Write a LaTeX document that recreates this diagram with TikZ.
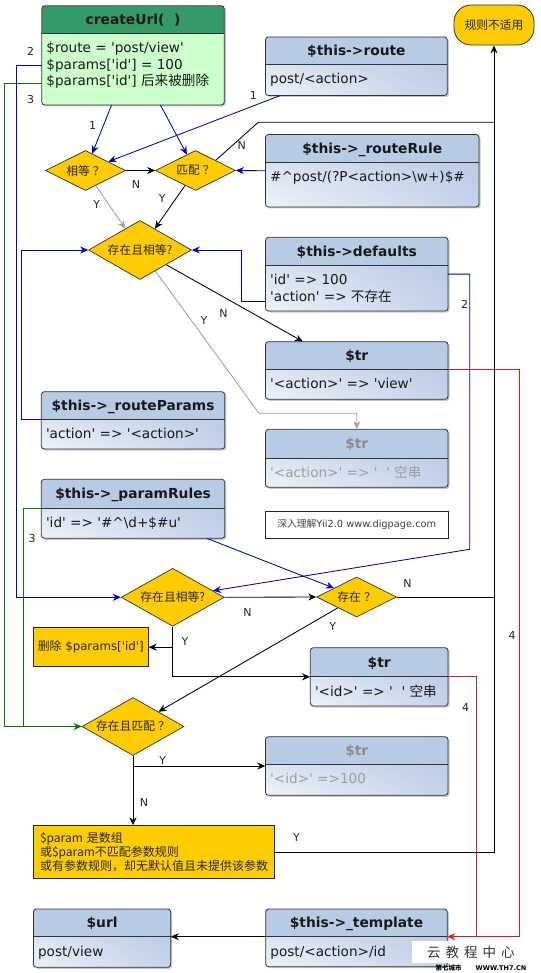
\documentclass[tikz,border=0pt]{standalone}
\usepackage{fontspec}
\setmainfont{DejaVu Sans}[Ligatures=TeXOff]
\newfontfamily\cjk{Noto Sans CJK SC}[Ligatures=TeXOff]
\usetikzlibrary{arrows.meta,shapes.geometric,calc,fit,shadings}
\definecolor{hdrb}{HTML}{B8CBE5}
\definecolor{bul}{HTML}{CBD8ED}
\definecolor{bur}{HTML}{B3C6E2}
\definecolor{bll}{HTML}{EEF2F9}
\definecolor{blr}{HTML}{C4D3EA}
\definecolor{hdrg}{HTML}{349A67}
\definecolor{bdyg}{HTML}{CCFFCC}
\definecolor{yel}{HTML}{FFCC00}
\definecolor{lblue}{HTML}{0000CC}
\definecolor{lgreen}{HTML}{007A00}
\definecolor{lred}{HTML}{E01B1B}
\definecolor{lgray}{HTML}{A0A0A0}
\definecolor{txg}{HTML}{8C8C8C}
\tikzset{
  boxline/.style={draw=black!80,line width=0.8pt},
  hdr-blue/.style={fill=hdrb}, hdr-gray/.style={fill=hdrb}, hdr-green/.style={fill=hdrg},
  bdy-blue/.style={shade,upper left=bul,upper right=bur,lower left=bll,lower right=blr},
  bdy-gray/.style={shade,upper left=bul,upper right=bur,lower left=bll,lower right=blr},
  bdy-green/.style={fill=bdyg},
  tt-blue/.style={text=black!90}, tt-green/.style={text=black!90}, tt-gray/.style={text=txg},
  bt-blue/.style={text=black!90}, bt-green/.style={text=black!90}, bt-gray/.style={text=txg!85},
  titlef/.style={font=\bfseries\fontsize{13.8}{16}\selectfont},
  bodyf/.style={font=\fontsize{13.6}{16.5}\selectfont},
  dia/.style={shape=diamond,draw=black!80,line width=0.7pt,fill=yel,inner sep=0pt,shape aspect=2,
    font=\cjk\fontsize{11.8}{13}\selectfont,text=black!85},
  ybox/.style={draw=black!85,line width=0.8pt,fill=yel,text=black!85},
  lbl/.style={font=\fontsize{11}{12}\selectfont,text=black!85,inner sep=0pt},
  conn/.style={line width=0.85pt},
  bk/.style={conn,draw=black},
  bl/.style={conn,draw=lblue},
  gn/.style={conn,draw=lgreen},
  rd/.style={conn,draw=lred},
  gy/.style={conn,draw=lgray},
  arr/.style={-{Stealth[length=8pt,width=7pt]}},
}
\newcommand{\ubox}[9]{%
  \fill[black,opacity=0.22,rounded corners=3pt] ($(#2,#3)+(1.5,1.5)$) rectangle ($(#4,#5)+(1.5,1.5)$);
  \begin{scope}
    \clip[rounded corners=3pt] (#2,#3) rectangle (#4,#5);
    \path[bdy-#9] (#2,#3) rectangle (#4,#5);
    \fill[hdr-#9] (#2,#3) rectangle (#4,#6);
  \end{scope}
  \draw[boxline,rounded corners=3pt] (#2,#3) rectangle (#4,#5);
  \draw[boxline] (#2,#6) -- (#4,#6);
  \node[inner sep=0pt,fit={(#2,#3) (#4,#5)}] (#1) {};
  \coordinate (#1-hr) at (#4,#6);
  \coordinate (#1-hl) at (#2,#6);
  \node[titlef,tt-#9,anchor=base,inner sep=0pt] at ({(#2+#4)/2},{(#3+#6)/2+5}) {#7};
  \node[bodyf,bt-#9,anchor=north west,inner sep=0pt,align=left] at ({#2+4.5},{#6+7.6}) {\strut #8};
}
\begin{document}
\begin{tikzpicture}[x=1pt,y=-1pt]
\useasboundingbox (0,0) rectangle (540,973);
\fill[white] (0,0) rectangle (540,973);

% ---------- boxes ----------
\ubox{cu}{41.7}{5.7}{224.3}{105}{33.3}{createUrl(\hspace{0.7em})}{\$route = 'post/view'\\\$params['id'] = 100\\\$params['id'] {\cjk 后来被删除}}{green}
\ubox{route}{265.5}{37}{447.3}{95.5}{64}{\$this->route}{post/<action>}{blue}
\ubox{rr}{265.5}{134.5}{479}{207}{162}{\$this->\_routeRule}{\#\textasciicircum post/(?P<action>\textbackslash w+)\$\#}{blue}
\ubox{def}{265.5}{237.3}{448}{311}{265.3}{\$this->defaults}{'id' => 100\\'action' => {\cjk 不存在}}{blue}
\ubox{tra}{265.5}{341.7}{448}{399.3}{369.3}{\$tr}{'<action>' => 'view'}{blue}
\ubox{rp}{41.3}{391.7}{224.8}{449}{419.3}{\$this->\_routeParams}{'action' => '<action>'}{blue}
\ubox{trg}{265.5}{429.3}{448}{487.3}{458.3}{\$tr}{'<action>' => '\ \ ' {\cjk 空串}}{gray}
\ubox{pr}{41.3}{479.3}{224.8}{538.3}{508.3}{\$this->\_paramRules}{'id' => '\#\textasciicircum\textbackslash d+\$\#u'}{blue}
\ubox{trb}{310.3}{647.7}{448}{706}{676.7}{\$tr}{'<id>' => '\ \ ' {\cjk 空串}}{blue}
\ubox{trc}{265.5}{736.7}{448}{795.3}{764.3}{\$tr}{'<id>' =>100}{gray}
\ubox{url}{33.4}{909}{170.7}{967.3}{936.7}{\$url}{post/view}{blue}
\ubox{tpl}{265.7}{909}{447.3}{966.7}{936.7}{\$this->\_template}{post/<action>/id}{blue}

\node[draw=black!85,line width=0.6pt,fill=white,inner sep=0pt,minimum width=182.5pt,minimum height=27.3pt,
  font=\fontsize{9.8}{11}\selectfont,text=black!75] (dp) at (356.75,524.6) {{\cjk 深入理解}Yii2.0 www.digpage.com};

\node[draw=black!80,line width=0.8pt,fill=yel,rounded corners=17pt,minimum width=80pt,minimum height=40pt,
  inner sep=0pt,font=\cjk\fontsize{11.8}{13}\selectfont,text=black!85] (na) at (494,25) {规则不适用};

% ---------- diamonds ----------
\node[dia,minimum width=80pt,minimum height=40pt] (eq) at (85.5,170.5) {相等\hspace{3pt}？};
\node[dia,minimum width=80pt,minimum height=40pt] (m) at (195.5,170.5) {匹配\hspace{3pt}？};
\node[dia,minimum width=103pt,minimum height=59pt] (d1) at (140,250) {存在且相等?};
\node[dia,minimum width=103pt,minimum height=58pt] (d2) at (172.7,597.3) {存在且相等?};
\node[dia,minimum width=80pt,minimum height=40pt] (ex) at (356.6,597) {存在\hspace{3pt}？};
\node[dia,minimum width=102pt,minimum height=58pt] (d3) at (133,726.5) {存在且匹配\hspace{3pt}？};

% ---------- yellow boxes ----------
\node[ybox,inner sep=0pt,minimum width=115pt,minimum height=39pt,font=\fontsize{11.8}{13}\selectfont] (del) at (90.8,647.2) {{\cjk 删除} \$params['id']};
\node[ybox,inner xsep=6.5pt,inner ysep=0pt,text width=228pt,minimum height=52.6pt,align=left,
  font=\cjk\fontsize{12}{13.8}\selectfont] (yb) at (154,852) {\$param 是数组\\或\$param不匹配参数规则\\或有参数规则，却无默认值且未提供该参数};

% ---------- connectors ----------
\draw[bl,arr] ([xshift=70pt]cu.south west) -- (eq);
\draw[bl,arr] ([xshift=119pt]cu.south west) -- (m);
\draw[bl,arr] ([xshift=14.5pt]route.south west) -- (eq);
\draw[bk,arr] (eq.east) -- (m.west);
\draw[gy,arr] (eq) -- (d1);
\draw[bk,arr] (m) -- (d1);
\draw[bl,arr] (rr.west) -- (m.east);
\coordinate (nk) at (258.3,122.3);
\coordinate (nr) at (494,122.3);
\draw[bk] (m.north east) -- (nk) -- (nr);
\draw[bk,arr] (yb.east) -| (na.south);
\draw[bk] (ex.east) -- (ex.east -| na.south);

\draw[bl,arr] ([yshift=9.3pt]def.south west) -| ([xshift=49.5pt]d1.east) -- (d1.east);
\draw[bl,arr] (rp-hl) -| ([xshift=-67.2pt]d1.west) -- (d1.west);
\draw[bl,arr] ([yshift=-60.3pt]cu.north west) -| ([xshift=-104pt]d2.west) -- (d2.west);
\draw[gn,arr] ([yshift=-78.3pt]cu.north west) -| ([xshift=-77pt]d3.west) -- (d3.west);
\draw[gn] (pr-hl) -| ([xshift=-58.7pt]d3.west);
\coordinate (c2) at (469.7,549.3);
\draw[bl,arr] ([yshift=-37pt]def.north east) -| (c2) -- (d2);

\draw[bk,arr] (d1) -- ([xshift=37.5pt]tra.north west);
\coordinate (c3) at (259,413.3);
\draw[gy,arr] (d1) -- (c3) -| (trg.north);

\draw[bk,arr] (d2.east) -- (ex.west);
\draw[bl,arr] ([xshift=-17.8pt]pr.south east) -- (ex);
\draw[bk,arr] (ex) -- (d3);
\draw[bk,arr] (d2.south) |- (trb.west);
\draw[bk,arr] (d2.south |- del.east) -- (del.east);
\draw[bk,arr] (d3.south) |- (trc.west);
\draw[bk,arr] (d3.south) -- (d3.south |- yb.north);

\draw[rd,arr] (tra-hr) -| ([xshift=72pt]tpl-hr) -- (tpl-hr);
\draw[rd] (trb-hr) -| ([xshift=28.7pt]tpl-hr);
\draw[bk,arr] (tpl-hl) -- (url-hr);

% ---------- labels ----------
\node[lbl] (l2a) at (30.7,51.7) {2};
\node[lbl] (l3a) at (30.7,99.3) {3};
\node[lbl] (l1a) at (92.7,125) {1};
\node[lbl] (l1b) at (253.3,95) {1};
\node[lbl] at (136,184) {N};
\node[lbl] at (96.7,204) {Y};
\node[lbl] at (162.3,198.3) {Y};
\node[lbl] at (241.7,145) {N};
\node[lbl] at (223.4,313) {N};
\node[lbl] at (204,320.7) {Y};
\node[lbl] (l2b) at (464.5,304) {2};
\node[lbl] (l3b) at (32,538.5) {3};
\node[lbl] at (247.6,612.7) {N};
\node[lbl] at (407.6,583.3) {N};
\node[lbl] at (185,641) {Y};
\node[lbl] at (332.8,626.7) {Y};
\node[lbl] (l4a) at (512,635) {4};
\node[lbl] (l4b) at (465.5,707.3) {4};
\node[lbl] at (162.8,760) {Y};
\node[lbl] at (144,802.7) {N};
\node[lbl] at (296.6,837.5) {Y};

% ---------- watermark ----------
\node[fill=white,inner sep=0pt,minimum width=128pt,minimum height=22pt,anchor=north west] (wmk) at (412,941) {};
\node[font=\cjk\fontsize{13.5}{14}\selectfont,text=black!80,inner sep=0pt] (wmt) at (470.8,952)
  {云\hspace{5pt}教\hspace{5pt}程\hspace{5pt}中\hspace{5pt}心};
\node[font=\bfseries\fontsize{6.5}{7}\selectfont,text=black,inner sep=0pt] (wms) at (481,967.5)
  {{\cjk 第七城市}\hspace{14pt}WWW.TH7.CN};
\end{tikzpicture}
\end{document}
